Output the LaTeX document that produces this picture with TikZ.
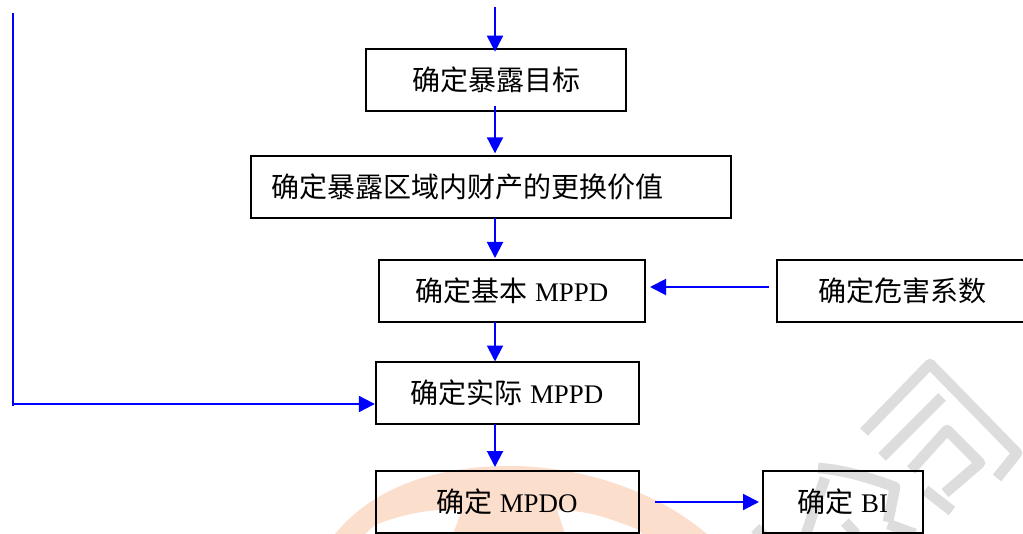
\documentclass[tikz,border=0pt]{standalone}
\usepackage{fontspec}
\setmainfont[Scale=0.96]{Liberation Serif}
\newfontfamily\cjk{Noto Sans CJK SC}
\usetikzlibrary{arrows.meta}
\definecolor{flowblue}{RGB}{0,0,255}
\definecolor{peach}{RGB}{252,222,205}
\definecolor{wmgray}{RGB}{221,221,221}
\newcommand{\latgap}{\kern 5.5pt}
\tikzset{
  box/.style={draw=black,line width=1.5pt,outer sep=0pt,inner sep=0pt,minimum height=46.5pt,font=\fontsize{21}{24}\selectfont},
  flow/.style={draw=flowblue,line width=1.5pt,-{Triangle[length=12pt,width=12pt]}},
  wm/.style={draw=wmgray,line width=8pt,line cap=butt,line join=round}
}
\begin{document}
\begin{tikzpicture}[x=0.75pt,y=-0.75pt]
\useasboundingbox (0,0) rectangle (1023,534);
\clip (0,0) rectangle (1023,534);
% watermark, orange part
\fill[peach] (335,534) .. controls (375,485) and (440,466) .. (510,466)
  .. controls (580,466) and (655,490) .. (707,534)
  -- (642,534) -- (639,530) .. controls (610,518) and (585,510) .. (557,510)
  -- (565,534) -- (453,534) -- (462,510)
  .. controls (430,508) and (400,515) .. (375,525) -- (365,534) -- cycle;
% watermark, grey part
\draw[wm] (864,432) -- (930,364) -- (1017,453) -- (997,478);
\draw[wm] (942,397) -- (882,457);
\draw[wm] (911,470) -- (947,430) -- (980,463) -- (945,493);
\draw[wm] (925,490) -- (952,511);
\draw[wm] (818,468) .. controls (845,470) and (870,478) .. (895,487) -- (888,522);
\draw[wm] (825,478) -- (806,534);
\draw[wm] (845,522) -- (856,534);
\draw[wm] (888,524) -- (915,534);
\draw[wm] (755,536) -- (763,528);
% boxes
\node[box,minimum width=195pt] (A) at (496,80) {{\cjk 确定暴露目标}};
\node[box,minimum width=360pt] (B) at (491,187) {{\cjk 确定暴露区域内财产的更换价值}\kern 36pt};
\node[box,minimum width=199.5pt] (C) at (512,291) {{\cjk 确定基本}\latgap MPPD};
\node[box,minimum width=187.5pt] (D) at (902,291) {{\cjk 确定危害系数}};
\node[box,minimum width=197.25pt] (E) at (507,392.5) {{\cjk 确定实际}\latgap MPPD};
\node[box,minimum width=197.25pt] (F) at (507,502) {{\cjk 确定}\latgap MPDO};
\node[box,minimum width=120pt] (G) at (843,502) {{\cjk 确定}\latgap BI};
% connector ends
\coordinate (axis) at (495,0);
\coordinate (top) at (495,7);
\coordinate (lt) at (12.5,13);
\coordinate (lv) at (12.5,406);
\coordinate (lb) at (12.5,404);
\coordinate (ds) at (769,287);
\coordinate (fs) at (655,502);
% connectors
\draw[flow,shorten >=-2pt] (top) -- (axis |- A.north);
\draw[flow,shorten <=-3.75pt,shorten >=2pt] (axis |- A.south) -- (axis |- B.north);
\draw[flow,shorten >=1.5pt] (axis |- B.south) -- (axis |- C.north);
\draw[flow] (axis |- C.south) -- (axis |- E.north);
\draw[flow,shorten >=3pt] (axis |- E.south) -- (axis |- F.north);
\draw[flow,shorten >=3.75pt] (ds) -- (ds -| C.east);
\draw[flow,shorten >=3pt] (fs) -- (G.west);
\draw[draw=flowblue,line width=1.5pt] (lt) -- (lv);
\draw[flow,shorten >=0.5pt] (lb) -- (lb -| E.west);
\end{tikzpicture}
\end{document}
